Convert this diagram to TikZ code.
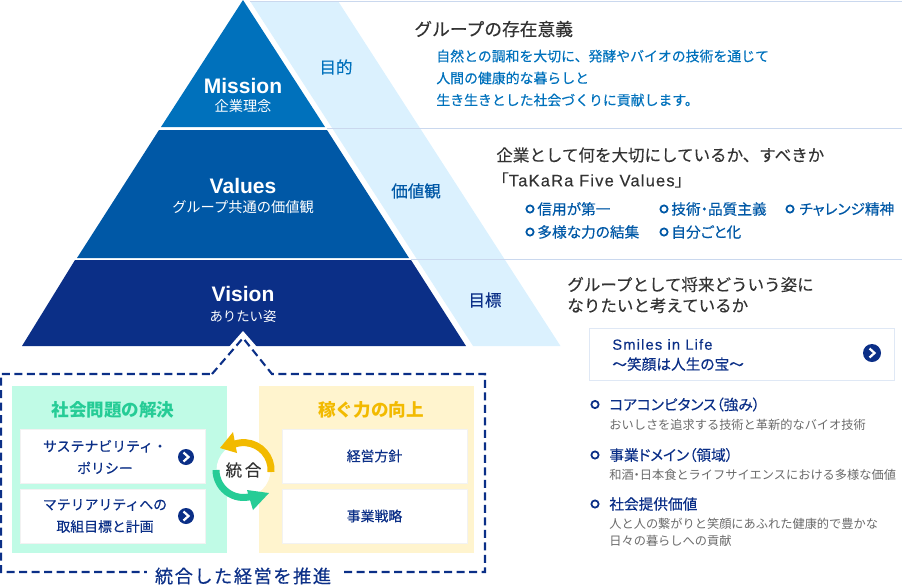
\documentclass[tikz,border=0pt]{standalone}
\usepackage{fontspec}
\setmainfont{Noto Sans CJK JP}
\newfontfamily\medfont[FakeBold=0.3]{Noto Sans CJK JP}
\newfontfamily\medpalt[FakeBold=0.3,RawFeature=+palt]{Noto Sans CJK JP}
\newfontfamily\latinfont[FakeBold=0.2]{Liberation Sans}
\newfontfamily\levelfont{Liberation Sans}
\usepackage{xcolor}
\definecolor{missionblue}{HTML}{0071BC}
\definecolor{valuesblue}{HTML}{0058A6}
\definecolor{visionblue}{HTML}{0B2F87}
\definecolor{bandblue}{HTML}{DBF1FE}
\definecolor{ruleblue}{HTML}{CAD8EE}
\definecolor{greenbox}{HTML}{C0FBE6}
\definecolor{greenhead}{HTML}{26CC96}
\definecolor{yellowbox}{HTML}{FFF4CE}
\definecolor{yellowhead}{HTML}{F2BA00}
\definecolor{inktext}{HTML}{333333}
\definecolor{subtext}{HTML}{6A6A6A}
% sizes: 1 reference pixel is 0.2mm
\newcommand{\fontA}{\fontsize{9.4pt}{11.9pt}\selectfont}
\newcommand{\fontB}{\fontsize{7.9pt}{12.5pt}\selectfont}
\newcommand{\fontC}{\fontsize{6.95pt}{9.7pt}\selectfont}
\newcommand{\fontD}{\fontsize{8.1pt}{10.4pt}\selectfont}
\newcommand{\fontE}{\fontsize{11.95pt}{14pt}\selectfont}
\newcommand{\fontF}{\fontsize{8.35pt}{11.4pt}\selectfont}
\newcommand{\spaced}[2]{{\addfontfeature{LetterSpace=#1}#2}}
\newcommand{\dotmark}{{\addfontfeature{RawFeature=+palt}・}}

\begin{document}
\begin{tikzpicture}[x=0.2mm,y=-0.2mm,line cap=butt,
  headtext/.style={anchor=west,inner sep=0,text=inktext,font=\fontA\medfont,align=left},
  bodytext/.style={anchor=west,inner sep=0,text=missionblue,font=\fontB\medfont,align=left},
  itemtext/.style={anchor=west,inner sep=0,text=valuesblue,font=\fontF\medpalt},
  navytext/.style={anchor=west,inner sep=0,text=visionblue,font=\fontF\medpalt,align=left},
  greytext/.style={anchor=west,inner sep=0,text=subtext,font=\fontC,align=left},
  leveltext/.style={inner sep=0,text=white,font=\fontE\levelfont\bfseries},
  levelsub/.style={inner sep=0,text=white,font=\fontD},
  bandtext/.style={inner sep=0,font=\fontA\medfont},
  boxhead/.style={inner sep=0,font=\fontsize{10pt}{12pt}\selectfont\bfseries},
  cellbox/.style={draw=black!5,fill=white,minimum width=37mm,minimum height=10.8mm,inner sep=0,
    text=visionblue,font=\fontB\medfont,align=center},
  celltext/.style={inner sep=0,text=visionblue,font=\fontB\medfont,align=center},
  ring/.style={circle,draw,line width=1pt,minimum size=1.45mm,inner sep=0},
  roundmark/.style={circle,fill=visionblue,minimum size=3.2mm,inner sep=0},
  rule/.style={ruleblue,line width=0.85pt}]
\useasboundingbox (0,0) rectangle (902,586);
% bands behind the pyramid
\fill[bandblue] (250,1) -- (338,1) -- (560.5,346) -- (473,346) -- cycle;
\draw[rule] (250,1.5) -- (902,1.5);
\draw[rule] (327,128.5) -- (902,128.5);
\draw[rule] (411,259.5) -- (902,259.5);
% pyramid
\fill[missionblue] (243,0) -- (325,127) -- (161,127) -- cycle;
\fill[valuesblue] (159,130) -- (327,130) -- (409,258) -- (77,258) -- cycle;
\fill[visionblue] (75,260) -- (411,260) -- (466,346) -- (22,346) -- cycle;
\fill[white] (243,331) -- (257,347) -- (229,347) -- cycle;
\node[leveltext] (mission) at (243,86) {Mission};
\node[levelsub] (missionsub) at (243,106) {企業理念};
\node[leveltext] (values) at (243,186) {Values};
\node[levelsub] (valuessub) at (243,207) {グループ共通の価値観};
\node[leveltext] (vision) at (243,294) {Vision};
\node[levelsub,font=\fontsize{7.6pt}{10pt}\selectfont] (visionsub) at (243,316) {ありたい姿};
\node[bandtext,text=missionblue] (purpose) at (336,67) {目的};
\node[bandtext,text=valuesblue] (worth) at (416,191) {価値観};
\node[bandtext,text=visionblue] (target) at (485,300) {目標};
% right column, mission
\node[headtext,font=\fontsize{10.1pt}{12pt}\selectfont\medfont] (misshead) at (414,29) {グループの存在意義};
\node[bodytext] (missbody) at (436,78) {自然との調和を大切に、発酵やバイオの技術を通じて\\人間の健康的な暮らしと\\生き生きとした社会づくりに貢献します。};
% right column, values
\node[headtext] (valhead) at (496,155) {企業として何を大切にしているか、すべきか};
\node[headtext] (valname) at (492,180) {「{\latinfont\spaced{7}{TaKaRa Five Values}}」};
\foreach \x/\y/\gap/\lab/\name in {530/209/7/信用が第一/credit,664/209/7/技術\dotmark 品質主義/quality,790/209/9/チャレンジ精神/challenge,530/232/7/多様な力の結集/diverse,664/232/7/自分ごと化/own}{
  \node[ring,draw=valuesblue] (\name ring) at (\x,\y) {};
  \node[itemtext] (\name) at (\x+\gap,\y) {\lab};
}
% right column, vision
\node[headtext] (vishead) at (567,295) {グループとして将来どういう姿に\\なりたいと考えているか};
\node[draw=ruleblue!60,fill=white,minimum width=61mm,minimum height=10.4mm,inner sep=0] (smiles) at (741.5,354) {};
\node[navytext] (smilestext) at (612,355) {{\latinfont\spaced{8}{Smiles in Life}}\\～笑顔は人生の宝～};
\node[roundmark,minimum size=3.6mm] (smilesmark) at (872,353) {};
\foreach \y/\lab/\name in {404.5/コアコンピタンス（強み）/core,455/事業ドメイン（領域）/domain,504/社会提供価値/social}{
  \node[ring,draw=visionblue] (\name ring) at (595,\y) {};
  \node[navytext] (\name) at (609,\y) {\lab};
}
\node[greytext] (coresub) at (609,425) {おいしさを追求する技術と革新的なバイオ技術};
\node[greytext] (domainsub) at (609,475) {和酒\dotmark 日本食とライフサイエンスにおける多様な価値};
\node[greytext] (socialsub) at (609,532.5) {人と人の繋がりと笑顔にあふれた健康的で豊かな\\日々の暮らしへの貢献};
% dashed frame
\draw[visionblue,line width=0.42mm,dash pattern=on 1.6mm off 0.9mm] (212,374) -- (243,338) -- (272,374) -- (485,374) -- (485,572) -- (1,572) -- (1,374) -- cycle;
\node[fill=white,inner sep=0,minimum width=38.6mm,text=visionblue,font=\fontsize{10.4pt}{12pt}\selectfont\medfont] (frametext) at (243,576) {\spaced{8}{統合した経営を推進}};
% two panels
\fill[greenbox] (12,386) rectangle (227,553);
\fill[yellowbox] (259,386) rectangle (474,553);
\node[boxhead,text=greenhead] (socialhead) at (113,410) {社会問題の解決};
\node[boxhead,text=yellowhead] (earnhead) at (371,410) {稼ぐ力の向上};
\node[cellbox] (cellA) at (112.5,456) {};
\node[cellbox] (cellB) at (112.5,516) {};
\node[cellbox] (cellC) at (374.5,456) {経営方針};
\node[cellbox] (cellD) at (374.5,516) {事業戦略};
\node[celltext] (cellAtext) at (105,457) {サステナビリティ・\\ポリシー};
\node[celltext] (cellBtext) at (105,516) {マテリアリティへの\\取組目標と計画};
\node[roundmark] (markA) at (186,457) {};
\node[roundmark] (markB) at (186,516) {};
\foreach \m in {markA,markB,smilesmark}{
  \draw[white,line width=0.45mm] ([shift={(-2.5,-4.5)}]\m.center) -- ([shift={(2.5,0)}]\m.center) -- ([shift={(-2.5,4.5)}]\m.center);
}
% merge circle
\fill[white] (243.5,470) circle (27);
\draw[yellowhead,line width=1.4mm] (271,472) arc[start angle=4,end angle=-115,radius=27.5];
\fill[yellowhead] (220,448) -- (233,432) -- (237,453) -- cycle;
\draw[greenhead,line width=1.4mm] (216,470) arc[start angle=180,end angle=65,radius=27.5];
\fill[greenhead] (269,493) -- (247,490) -- (253,510) -- cycle;
\node[inner sep=0,text=inktext,font=\fontA\medfont] (merge) at (243.5,470) {統\,合};
\end{tikzpicture}
\end{document}
